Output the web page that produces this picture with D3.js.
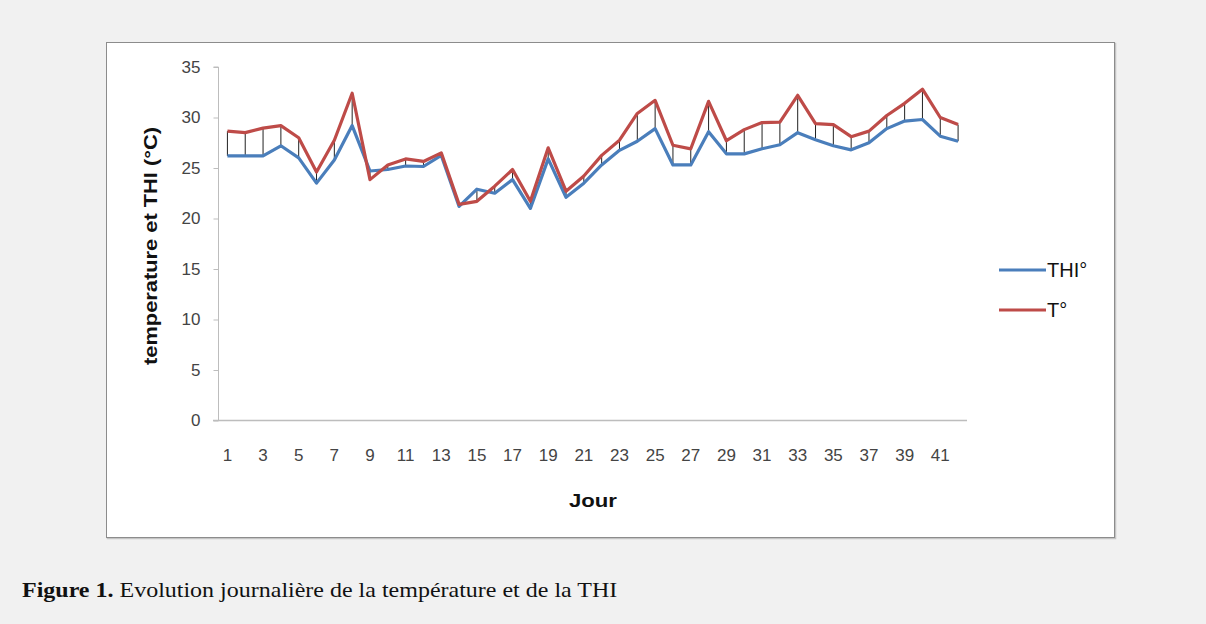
<!DOCTYPE html>
<html>
<head>
<meta charset="utf-8">
<script src="https://cdn.jsdelivr.net/npm/d3@7"></script>
<style>
  html, body { margin: 0; padding: 0; background: #f1f1f1; }
  svg { display: block; }
</style>
</head>
<body>
<svg id="chart" width="1206" height="624"></svg>
<script>
// days 1..42
const days = d3.range(1, 43)
const thi = [26.2, 26.2, 26.2, 27.2, 26.0, 23.5, 25.8, 29.2, 24.7, 24.85,
  25.2, 25.15, 26.25, 21.2, 22.9, 22.5, 23.85, 21.0, 25.9, 22.1,
  23.5, 25.3, 26.75, 27.65, 28.9, 25.3, 25.3, 28.6, 26.4, 26.4,
  26.9, 27.3, 28.5, 27.8, 27.2, 26.8, 27.5, 28.9, 29.65, 29.8,
  28.15, 27.65]
const temp = [28.65, 28.5, 28.95, 29.2, 28.0, 24.6, 27.75, 32.4, 23.85, 25.3,
  25.9, 25.65, 26.5, 21.4, 21.7, 23.2, 24.85, 21.7, 27.0, 22.7,
  24.2, 26.25, 27.75, 30.4, 31.7, 27.25, 26.9, 31.6, 27.7, 28.8,
  29.5, 29.55, 32.2, 29.4, 29.3, 28.1, 28.65, 30.2, 31.4, 32.8,
  30.0, 29.3]
const yTicks = [0, 5, 10, 15, 20, 25, 30, 35]
const xLabels = days.filter(d => d % 2 === 1)
const series = [
  { name: 'THI°', values: thi, color: '#4a7ebb' },
  { name: 'T°', values: temp, color: '#be4b48' }
]

const svg = d3.select('#chart')

// chart frame (with a faint shadow on right / bottom)
svg.append('rect')
  .attr('x', 107.5).attr('y', 43.5)
  .attr('width', 1008).attr('height', 495)
  .attr('fill', 'none')
  .attr('stroke', '#c4c4c4')
  .attr('stroke-width', 1.5)
svg.append('rect')
  .attr('x', 106.5).attr('y', 42.5)
  .attr('width', 1008).attr('height', 495)
  .attr('fill', '#fff')
  .attr('stroke', '#8c8c8c')
  .attr('stroke-width', 1)

const x = d3.scaleBand()
  .domain(days)
  .range([218.5, 967])

const y = d3.scaleLinear()
  .domain([0, 35])
  .range([420.5, 67])

const cx = d => x(d) + x.bandwidth() / 2

const tickFont = '17px "Liberation Sans", Arial, sans-serif'

// y axis
const yAxis = svg.append('g')
  .attr('transform', 'translate(218.5,0)')
  .call(d3.axisLeft(y).tickValues(yTicks).tickSize(5).tickPadding(13))
yAxis.select('.domain').attr('stroke', '#bdbdbd').attr('d', `M-5,${y(35)}H0V${y(0)}`)
yAxis.selectAll('.tick line').attr('stroke', '#bdbdbd')
yAxis.selectAll('.tick text')
  .attr('fill', '#444')
  .style('font', tickFont)

// x axis
const xAxis = svg.append('g')
  .attr('transform', 'translate(0,420.5)')
  .call(d3.axisBottom(x).tickValues(xLabels).tickSize(0).tickPadding(28))
xAxis.select('.domain').attr('stroke', '#bdbdbd').attr('stroke-width', 1.5)
  .attr('d', `M213,0H967`)
xAxis.selectAll('.tick text')
  .attr('fill', '#444')
  .style('font', tickFont)

// high-low lines
svg.append('g')
  .selectAll('line')
  .data(days)
  .join('line')
  .attr('x1', d => cx(d))
  .attr('x2', d => cx(d))
  .attr('y1', (d, i) => y(thi[i]))
  .attr('y2', (d, i) => y(temp[i]))
  .attr('stroke', '#222')
  .attr('stroke-width', 1)

// series lines
const line = d3.line()
  .x((v, i) => cx(days[i]))
  .y(v => y(v))

svg.append('g')
  .selectAll('path')
  .data(series)
  .join('path')
  .attr('d', s => line(s.values))
  .attr('fill', 'none')
  .attr('stroke', s => s.color)
  .attr('stroke-width', 3.2)
  .attr('stroke-linejoin', 'round')

// axis titles
svg.append('text')
  .attr('transform', 'translate(157,246) rotate(-90)')
  .attr('text-anchor', 'middle')
  .attr('textLength', 238)
  .attr('lengthAdjust', 'spacingAndGlyphs')
  .style('font', 'bold 18px "Liberation Sans", Arial, sans-serif')
  .attr('fill', '#111')
  .text('temperature et THI (°C)')

svg.append('text')
  .attr('x', 569).attr('y', 507)
  .attr('textLength', 48)
  .attr('lengthAdjust', 'spacingAndGlyphs')
  .style('font', 'bold 19px "Liberation Sans", Arial, sans-serif')
  .attr('fill', '#111')
  .text('Jour')

// legend
const legend = svg.append('g')
  .selectAll('g')
  .data(series)
  .join('g')
  .attr('transform', (s, i) => `translate(999,${270 + i * 40})`)
legend.append('line')
  .attr('x1', 0).attr('x2', 47)
  .attr('stroke', s => s.color)
  .attr('stroke-width', 3.2)
legend.append('text')
  .attr('x', 48).attr('y', 7)
  .style('font', '20px "Liberation Sans", Arial, sans-serif')
  .attr('fill', '#111')
  .text(s => s.name)

// caption (stretched horizontally like the source image)
const cap = svg.append('text')
  .attr('transform', 'translate(22,597) scale(1.2,1)')
  .style('font', '20px "Liberation Serif", "Times New Roman", serif')
  .attr('fill', '#111')
cap.append('tspan').style('font-weight', 'bold').text('Figure 1.')
cap.append('tspan').text(' Evolution journalière de la température et de la THI')
</script>
</body>
</html>
